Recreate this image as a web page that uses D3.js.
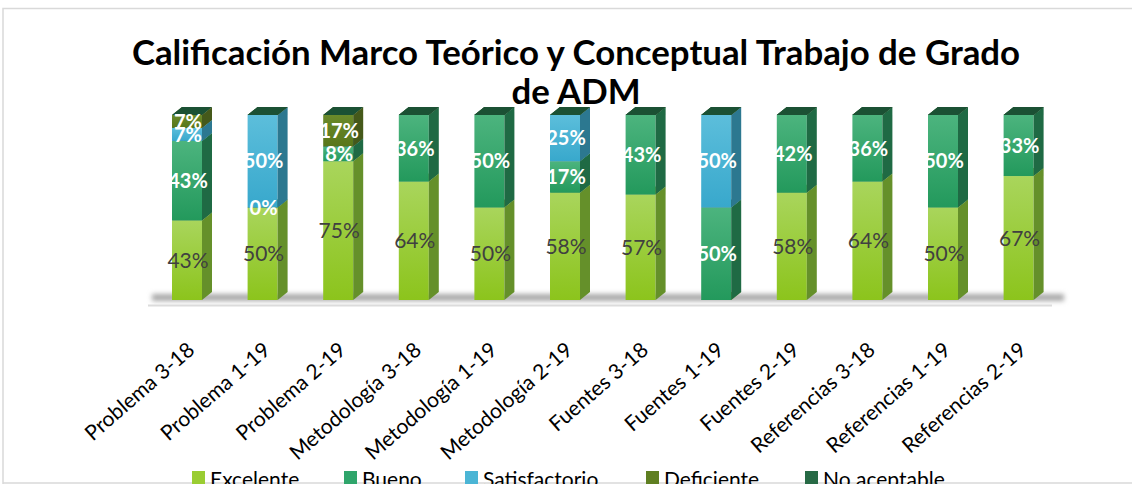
<!DOCTYPE html>
<html>
<head>
<meta charset="utf-8">
<script src="https://cdn.jsdelivr.net/npm/d3@7"></script>
<style>
  html, body { margin: 0; padding: 0; background: #fff; }
  svg { display: block; font-family: Lato, 'Open Sans', sans-serif; }
</style>
</head>
<body>
<div id="chart"></div>
<script>
// datos
const categories = [
  'Problema 3-18', 'Problema 1-19', 'Problema 2-19',
  'Metodología 3-18', 'Metodología 1-19', 'Metodología 2-19',
  'Fuentes 3-18', 'Fuentes 1-19', 'Fuentes 2-19',
  'Referencias 3-18', 'Referencias 1-19', 'Referencias 2-19',
]
const seriesNames = ['Excelente', 'Bueno', 'Satisfactorio', 'Deficiente', 'No aceptable']
const excelente = [43, 50, 75, 64, 50, 58, 57, null, 58, 64, 50, 67]
const bueno = [43, 0, 8, 36, 50, 17, 43, 50, 42, 36, 50, 33]
const satisfactorio = [7, 50, null, null, null, 25, null, 50, null, null, null, null]
const deficiente = [7, null, 17, null, null, null, null, null, null, null, null, null]
const noAceptable = [null, null, null, null, null, null, null, null, null, null, null, null]
const titleLines = ['Calificación Marco Teórico y Conceptual Trabajo de Grado', 'de ADM']

const width = 1132
const height = 484
const barW = 30
const depthX = 10
const depthY = 8

// colores por serie: frente (arriba, abajo), lado, tapa, leyenda
const palette = {
  Excelente: { top: '#a9d55c', bottom: '#8cc41c', side: '#65902a', cap: '#7fa83a', legend: '#9acd32' },
  Bueno: { top: '#4cb47e', bottom: '#23995c', side: '#1f6a44', cap: '#2a7a50', legend: '#2fa56b' },
  Satisfactorio: { top: '#5cbedb', bottom: '#38a8cc', side: '#2c7890', cap: '#2f7f95', legend: '#4bb5d5' },
  Deficiente: { top: '#6a8a2a', bottom: '#58761a', side: '#45591a', cap: '#4a5f1c', legend: '#5f7f21' },
  'No aceptable': { top: '#2b7049', bottom: '#1f5f3b', side: '#174a2e', cap: '#1b5134', legend: '#276a45' },
}

const rows = categories.map((name, i) => ({
  name,
  Excelente: excelente[i],
  Bueno: bueno[i],
  Satisfactorio: satisfactorio[i],
  Deficiente: deficiente[i],
  'No aceptable': noAceptable[i],
}))

const stack = d3.stack().keys(seriesNames).value((d, key) => d[key] || 0)
const stacked = stack(rows)

const x = d3.scaleBand().domain(categories).range([149.2, 1056.4])
const y = d3.scaleLinear().domain([0, 100]).range([300, 115])

const svg = d3.select('#chart').append('svg').attr('width', width).attr('height', height)
const defs = svg.append('defs')

for (const key of seriesNames) {
  const id = 'grad-' + seriesNames.indexOf(key)
  const g = defs.append('linearGradient').attr('id', id).attr('x1', 0).attr('y1', 0).attr('x2', 0).attr('y2', 1)
  g.append('stop').attr('offset', '0%').attr('stop-color', palette[key].top)
  g.append('stop').attr('offset', '100%').attr('stop-color', palette[key].bottom)
}
defs.append('filter').attr('id', 'blur').attr('x', '-10%').attr('y', '-100%').attr('width', '120%').attr('height', '300%')
  .append('feGaussianBlur').attr('stdDeviation', 2.5)

// marco del gráfico
svg.append('path')
  .attr('d', `M3,${height} V8.5 H${width}`)
  .attr('fill', 'none').attr('stroke', '#d9d9d9').attr('stroke-width', 1.5)
svg.append('line')
  .attr('x1', 3).attr('x2', width).attr('y1', 483).attr('y2', 483)
  .attr('stroke', '#d9d9d9').attr('stroke-width', 1.5)

// título
svg.append('text')
  .attr('text-anchor', 'middle')
  .attr('font-weight', 700)
  .attr('font-size', 34.8)
  .attr('fill', '#000')
  .selectAll('tspan')
  .data(titleLines)
  .join('tspan')
  .attr('x', 576)
  .attr('y', (d, i) => 65 + i * 39)
  .text((d) => d)

// piso
svg.append('rect')
  .attr('x', 152).attr('y', 294).attr('width', 912).attr('height', 7)
  .attr('fill', '#a8a8a8').attr('filter', 'url(#blur)')
svg.append('line')
  .attr('x1', 148).attr('x2', 1052).attr('y1', 305.5).attr('y2', 305.5)
  .attr('stroke', '#dcdcdc').attr('stroke-width', 2)

// barras 3D
const cx = (name) => x(name) + x.bandwidth() / 2
const bars = svg.append('g')
for (const layer of stacked) {
  const key = layer.key
  const gi = seriesNames.indexOf(key)
  const seg = bars.append('g').selectAll('g').data(layer).join('g')
  seg.append('rect')
    .attr('x', (d) => cx(d.data.name) - barW / 2)
    .attr('y', (d) => y(d[1]))
    .attr('width', barW)
    .attr('height', (d) => y(d[0]) - y(d[1]))
    .attr('fill', `url(#grad-${gi})`)
  seg.append('path')
    .attr('fill', palette[key].side)
    .attr('d', (d) => {
      const xr = cx(d.data.name) + barW / 2
      const y0 = y(d[0])
      const y1 = y(d[1])
      return `M${xr},${y1} L${xr + depthX},${y1 - depthY} L${xr + depthX},${y0 - depthY} L${xr},${y0} Z`
    })
  seg.append('path')
    .attr('fill', palette[key].cap)
    .attr('d', (d) => {
      const xl = cx(d.data.name) - barW / 2
      const y1 = y(d[1])
      return `M${xl},${y1} L${xl + barW},${y1} L${xl + barW + depthX},${y1 - depthY} L${xl + depthX},${y1 - depthY} Z`
    })
}

// etiquetas de datos
const labels = svg.append('g').attr('text-anchor', 'middle')
for (const layer of stacked) {
  const key = layer.key
  const first = key === 'Excelente'
  labels.append('g')
    .selectAll('text')
    .data(layer.filter((d) => d.data[key] !== null))
    .join('text')
    .attr('x', (d) => cx(d.data.name) + 1)
    .attr('y', (d) => (y(d[0]) + y(d[1])) / 2)
    .attr('dy', '0.36em')
    .attr('font-size', first ? 21 : 20)
    .attr('fill', first ? '#404040' : '#ffffff')
    .attr('font-weight', first ? 400 : 700)
    .text((d) => d.data[key] + '%')
}

// eje x
const xAxis = d3.axisBottom(x).tickSize(0).tickPadding(0)
const axisG = svg.append('g').attr('transform', 'translate(0,300)').call(xAxis)
axisG.select('.domain').remove()
axisG.selectAll('text')
  .attr('font-family', 'Lato, sans-serif')
  .attr('font-size', 21)
  .attr('fill', '#000')
  .attr('text-anchor', 'end')
  .attr('dy', 0)
  .attr('transform', 'translate(9,52) rotate(-41)')

// leyenda
const legendX = [192, 344, 465, 646, 805]
const legend = svg.append('g').attr('font-size', 21)
const item = legend.selectAll('g').data(seriesNames).join('g')
  .attr('transform', (d, i) => `translate(${legendX[i]},0)`)
item.append('rect')
  .attr('x', 0).attr('y', 471).attr('width', 13).attr('height', 13)
  .attr('fill', (d) => palette[d].legend)
item.append('text')
  .attr('x', 18).attr('y', 487)
  .attr('fill', '#000')
  .text((d) => d)
</script>
</body>
</html>
